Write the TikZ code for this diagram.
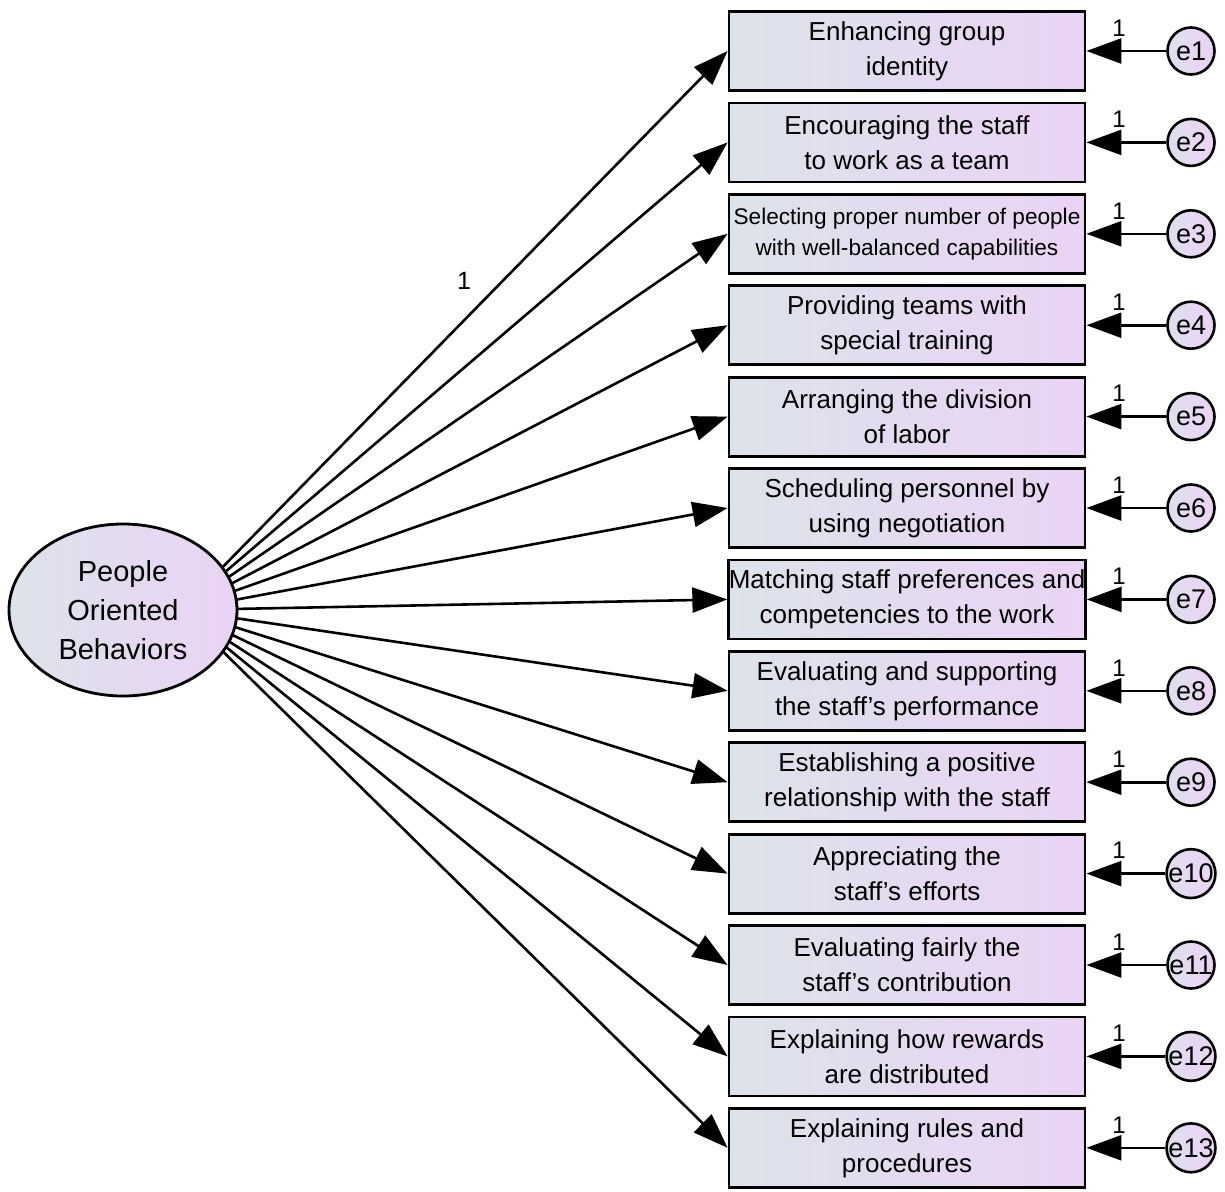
\documentclass[tikz,border=0pt]{standalone}
\usepackage{fontspec}
\setmainfont{Liberation Sans}
\usetikzlibrary{arrows.meta,shapes.geometric,calc,backgrounds}
\definecolor{shadeL}{HTML}{DCE3EA}
\definecolor{shadeR}{HTML}{EBD3F5}
\begin{document}
\begin{tikzpicture}[x=1pt,y=-1pt,
  itembox/.style={draw=black, line width=2.8pt, minimum width=356pt,
    minimum height=79pt, inner sep=0pt, align=center,
    left color=shadeL, right color=shadeR,
    font=\fontsize{26}{35}\selectfont},
  smalltext/.style={font=\fontsize{22.6}{31}\selectfont},
  normaltext/.style={},
  errnode/.style={circle, draw=black, line width=2.6pt, minimum size=47pt,
    inner sep=0pt, left color=shadeL!70!shadeR, right color=shadeR,
    font=\fontsize{27}{27}\selectfont},
  latent/.style={ellipse, draw=black, line width=2.8pt, minimum width=228pt,
    minimum height=172pt, inner sep=0pt, align=center,
    left color=shadeL, right color=shadeR,
    font=\fontsize{29}{39}\selectfont},
  load/.style={line width=2.6pt, -{Triangle[length=35pt,width=25pt]}},
  wlabel/.style={font=\fontsize{24}{24}\selectfont, inner sep=0pt}]

\useasboundingbox (0,0) rectangle (1225,1191);

% latent factor
\node[latent] (lat) at (123,610) {People\\Oriented\\Behaviors};
\coordinate (hub) at ($(lat.center)!0.5!(lat.east)$);

% observed indicators and their error terms
\foreach \i/\sty/\txt in {
  1/normaltext/{Enhancing group\\identity},
  2/normaltext/{Encouraging the staff\\to work as a team},
  3/smalltext/{Selecting proper number of people\\with well-balanced capabilities},
  4/normaltext/{Providing teams with\\special training},
  5/normaltext/{Arranging the division\\of labor},
  6/normaltext/{Scheduling personnel by\\using negotiation},
  7/normaltext/{Matching staff preferences and\\competencies to the work},
  8/normaltext/{Evaluating and supporting\\the staff's performance},
  9/normaltext/{Establishing a positive\\relationship with the staff},
  10/normaltext/{Appreciating the\\staff's efforts},
  11/normaltext/{Evaluating fairly the\\staff's contribution},
  12/normaltext/{Explaining how rewards\\are distributed},
  13/normaltext/{Explaining rules and\\procedures}} {
  \pgfmathsetmacro{\yy}{51+(\i-1)*91.4}
  \node[itembox, \sty] (b\i) at (907,\yy) {\txt};
  \node[errnode] (e\i) at (1191,\yy) {e\i};
  \draw[load] (e\i.west) -- (b\i.east);
  \node[wlabel] (w\i) at (1119,\yy-23) {1};
  \begin{scope}[on background layer]
    \draw[load] (hub) -- (b\i.west);
  \end{scope}
}

\node[font=\fontsize{25}{25}\selectfont, inner sep=0pt] (l1) at (464,281) {1};

\end{tikzpicture}
\end{document}
